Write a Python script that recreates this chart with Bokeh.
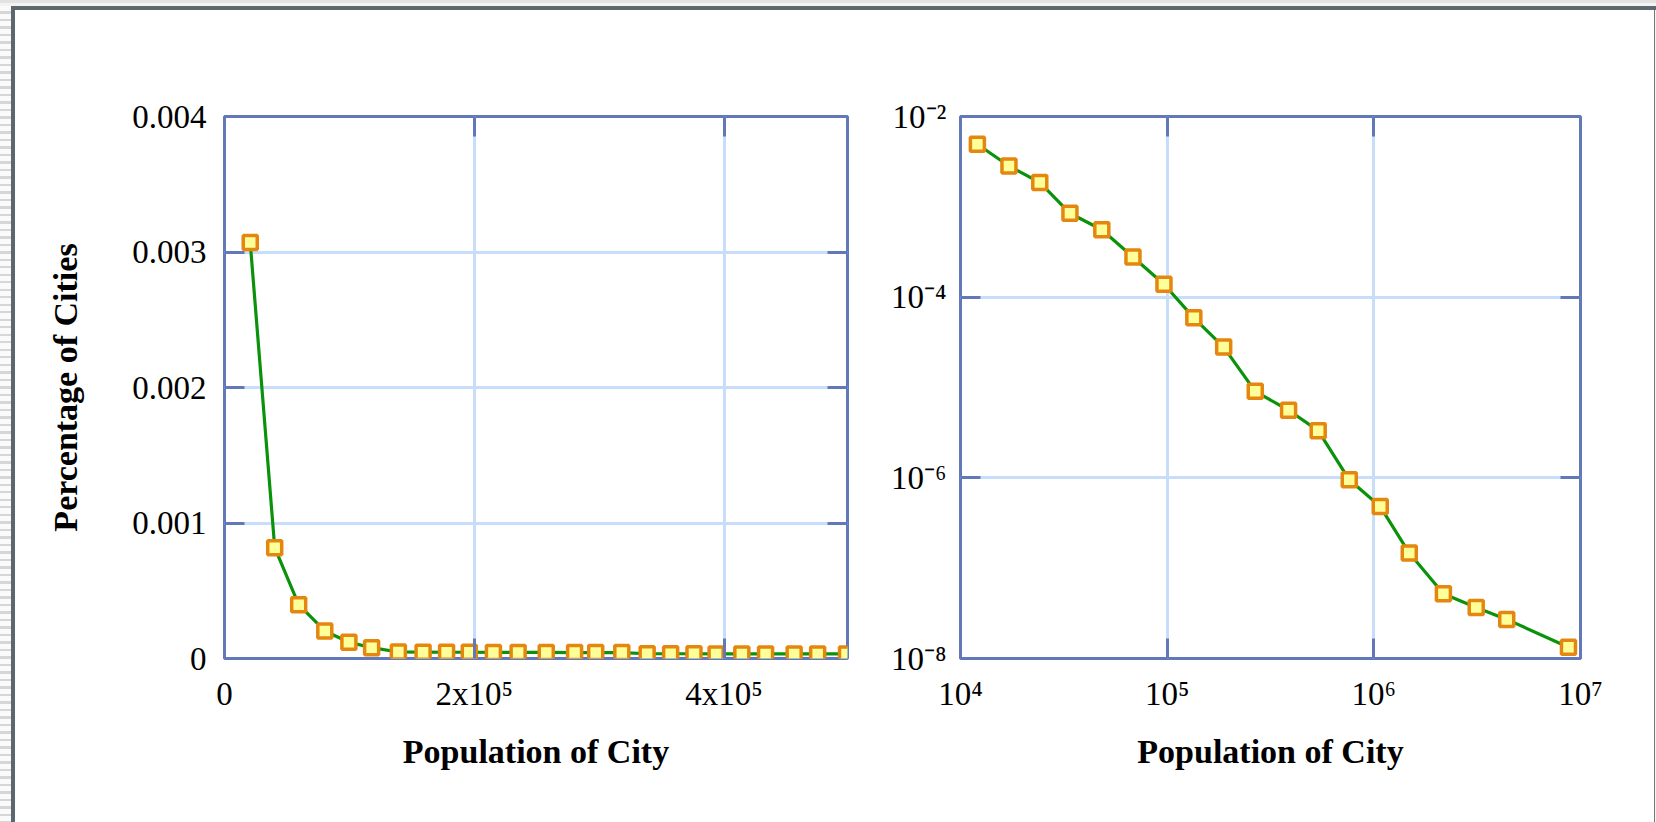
from bokeh.embed import file_html
from bokeh.layouts import column, row
from bokeh.models import FixedTicker, LinearAxis, LogAxis, Range1d, Spacer
from bokeh.plotting import figure
from bokeh.resources import INLINE

# Share of cities per population bin (linear bins)
lin_population = [20600, 40200, 59400, 80300, 99600, 117800, 139200, 159000,
                  177800, 196000, 215300, 235100, 257600, 280300, 297200,
                  318100, 338400, 357200, 375900, 393600, 414200, 433200,
                  456100, 474900, 498000]
lin_share = [0.00307, 0.000818, 0.000397, 0.000203, 0.000120, 0.000080,
             0.000048, 0.000047, 0.000046, 0.000046, 0.000045, 0.000045,
             0.000045, 0.000044, 0.000044, 0.000044, 0.000035, 0.000035,
             0.000035, 0.000034, 0.000034, 0.000034, 0.000034, 0.000034,
             0.000034]

# Share of cities per population bin (logarithmic bins)
log_population = [12070, 17160, 24190, 33850, 48280, 68300, 96500, 134600,
                  187700, 266800, 386800, 538000, 760500, 1074000, 1484000,
                  2171000, 3129000, 4397000, 8746000]
log_share = [4.93e-3, 2.83e-3, 1.86e-3, 8.49e-4, 5.58e-4, 2.78e-4, 1.39e-4,
             5.90e-5, 2.80e-5, 9.06e-6, 5.60e-6, 3.33e-6, 9.51e-7, 4.81e-7,
             1.47e-7, 5.22e-8, 3.67e-8, 2.71e-8, 1.33e-8]

# Tick positions and their labels
lin_x_ticks = [0, 200000, 400000]
lin_x_labels = ["0", "2x10\u2075", "4x10\u2075"]
lin_y_ticks = [0, 0.001, 0.002, 0.003, 0.004]
lin_y_labels = ["0", "0.001", "0.002", "0.003", "0.004"]

log_x_ticks = [1e4, 1e5, 1e6, 1e7]
log_x_labels = ["10\u2074", "10\u2075", "10\u2076", "10\u2077"]
log_y_ticks = [1e-8, 1e-6, 1e-4, 1e-2]
log_y_labels = ["10\u207b\u2078", "10\u207b\u2076", "10\u207b\u2074", "10\u207b\u00b2"]

x_title = "Population of City"
y_title = "Percentage of Cities"

FRAME = "#6279b9"
GRID = "#c8ddfa"
LINE = "#0a930a"
MARK_LINE = "#e5870e"
MARK_FILL = "#ffff9a"
BORDER = "#5d686e"
FONT = "Liberation Serif"


def panel(width, x_range, y_range, x_type, y_type, left, right):
    p = figure(width=width, height=812, x_range=x_range, y_range=y_range,
               x_axis_type=x_type, y_axis_type=y_type,
               output_backend="svg", toolbar_location=None,
               min_border_left=left, min_border_right=right,
               min_border_top=106, min_border_bottom=164,
               background_fill_color="white", border_fill_color="white")
    p.outline_line_color = FRAME
    p.outline_line_width = 3
    p.outline_line_alpha = 1.0
    return p


def style_axes(p, axis_type, x_ticks, x_labels, y_ticks, y_labels, label_gap):
    # mirrored tick-only axes on the top and right edges
    p.add_layout(axis_type[0](), "above")
    p.add_layout(axis_type[1](), "right")
    x_inner = [t for t in x_ticks if p.x_range.start < t < p.x_range.end]
    y_inner = [t for t in y_ticks if p.y_range.start < t < p.y_range.end]
    p.above[0].ticker = FixedTicker(ticks=x_inner)
    p.right[0].ticker = FixedTicker(ticks=y_inner)
    p.below[0].ticker = FixedTicker(ticks=x_ticks)
    p.left[0].ticker = FixedTicker(ticks=y_ticks)
    p.below[0].major_label_overrides = dict(zip(x_ticks, x_labels))
    p.left[0].major_label_overrides = dict(zip(y_ticks, y_labels))
    for ax in p.xaxis + p.yaxis:
        ax.axis_line_color = None
        ax.major_tick_in = 20
        ax.major_tick_out = 0
        ax.minor_tick_in = 0
        ax.minor_tick_out = 0
        ax.major_tick_line_color = FRAME
        ax.major_tick_line_width = 3
        ax.major_label_text_font = FONT
        ax.major_label_text_font_size = "33px"
        ax.major_label_text_color = "black"
        ax.axis_label_text_font = FONT
        ax.axis_label_text_font_size = "34px"
        ax.axis_label_text_font_style = "bold"
        ax.axis_label_text_color = "black"
    for ax in (p.above[0], p.right[0]):
        ax.major_label_text_color = None
        ax.major_label_text_font_size = "0px"
    p.below[0].major_label_standoff = 17
    p.left[0].major_label_standoff = label_gap
    p.xgrid.ticker = FixedTicker(ticks=x_inner)
    p.ygrid.ticker = FixedTicker(ticks=y_inner)
    for g in p.xgrid + p.ygrid:
        g.grid_line_color = GRID
        g.grid_line_width = 3
        g.grid_line_alpha = 1.0


def series(p, xs, ys):
    p.line(xs, ys, line_color=LINE, line_width=3.2)
    p.scatter(xs, ys, marker="square", size=14, line_color=MARK_LINE,
              line_width=3.5, fill_color=MARK_FILL)


# ---- linear panel ----
p1 = panel(872, Range1d(0, 498800), Range1d(0, 0.004), "linear", "linear", 209, 40)
style_axes(p1, (LinearAxis, LinearAxis), lin_x_ticks, lin_x_labels,
           lin_y_ticks, lin_y_labels, 18)
p1.below[0].axis_label = x_title
p1.below[0].axis_label_standoff = 18
p1.left[0].axis_label = y_title
p1.left[0].axis_label_standoff = 45
series(p1, lin_population, lin_share)

# ---- log-log panel ----
p2 = panel(767, Range1d(1e4, 1e7), Range1d(1e-8, 1e-2), "log", "log", 70, 74)
style_axes(p2, (LogAxis, LogAxis), log_x_ticks, log_x_labels,
           log_y_ticks, log_y_labels, 14)
p2.below[0].axis_label = x_title
p2.below[0].axis_label_standoff = 18
series(p2, log_population, log_share)

# ---- page frame ----
top_strip = Spacer(width=1656, height=6, styles={
    "background": "linear-gradient(#e2e2e2 0px, #e2e2e2 3px, #f3f3f3 3px, #f3f3f3 6px)"})
side_strip = Spacer(width=11, height=816, styles={
    "background": "repeating-linear-gradient(#fafafa 0px, #fafafa 5px, #d6d6d6 5px, #d6d6d6 7.5px)"})
top_edge = Spacer(width=1645, height=4, styles={"background-color": BORDER})
left_edge = Spacer(width=4, height=812, styles={"background-color": BORDER})
right_edge = Spacer(width=1, height=812, styles={"background-color": "#6f787d"})
right_pad = Spacer(width=1, height=812, styles={"background-color": "#f4f4f4"})

page = column(
    top_strip,
    row(side_strip,
        column(top_edge,
               row(left_edge, p1, p2, right_edge, right_pad, spacing=0),
               spacing=0),
        spacing=0),
    spacing=0)

open("out.html", "w").write(file_html(page, INLINE))
